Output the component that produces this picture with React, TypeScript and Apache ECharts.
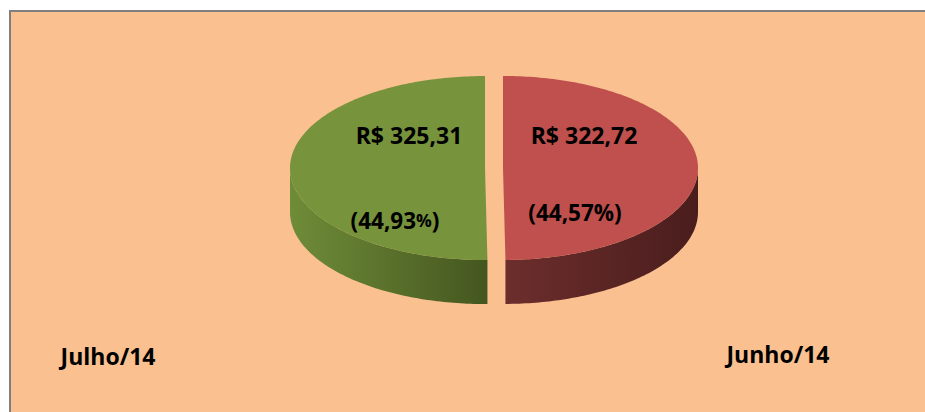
import React, { useEffect, useRef } from "react";
import * as echarts from "echarts";

// ---- data ----
const categories = ["Junho/14", "Julho/14"];
const values = [322.72, 325.31];
const percents = [44.57, 44.93];

// ---- styles ----
const TOP_COLORS = ["#C0504D", "#77933C"];
const SIDE_COLORS = [
  ["#6C2E2C", "#4A1D1D"],
  ["#6F8C38", "#44561F"],
];
const BG = "#FAC090";
const FONT = "'Open Sans', 'Noto Sans', sans-serif";

// ---- geometry ----
const CX = 494;
const CY = 168;
const RX = 195;
const RY = 92;
const DEPTH = 44;
const EXPLODE = 9;

const fmtMoney = (v: number) => "R$ " + v.toFixed(2).replace(".", ",");
const fmtPct = (v: number) => v.toFixed(2).replace(".", ",");

export default function App() {
  const ref = useRef<HTMLDivElement>(null);

  useEffect(() => {
    if (!ref.current) return;
    const chart = echarts.init(ref.current, undefined, { renderer: "svg" });
    const total = values.reduce((a, b) => a + b, 0);
    const rad = (d: number) => (d * Math.PI) / 180;

    const renderItem = (params: any, api: any) => {
      const i = params.dataIndex;
      let start = 0;
      for (let k = 0; k < i; k++) start += (values[k] / total) * 360;
      const span = (api.value(0) / total) * 360;
      const end = start + span;
      const mid = start + span / 2;
      const cx = CX + EXPLODE * Math.sin(rad(mid));
      const cy = CY - EXPLODE * Math.cos(rad(mid)) * (RY / RX);
      const pt = (a: number, dy = 0) => [
        cx + RX * Math.sin(rad(a)),
        cy - RY * Math.cos(rad(a)) + dy,
      ];
      const arc = (a0: number, a1: number, dy = 0) => {
        const pts: number[][] = [];
        const n = Math.max(2, Math.ceil(Math.abs(a1 - a0)));
        for (let s = 0; s <= n; s++) pts.push(pt(a0 + ((a1 - a0) * s) / n, dy));
        return pts;
      };
      const children: any[] = [];
      const lo = Math.max(start, 90);
      const hi = Math.min(end, 270);
      if (lo < hi) {
        const sidePts = arc(lo, hi).concat(arc(hi, lo, DEPTH));
        children.push({
          type: "polygon",
          shape: { points: sidePts },
          style: {
            fill: new echarts.graphic.LinearGradient(0, 0, 1, 0, [
              { offset: 0, color: SIDE_COLORS[i][0] },
              { offset: 1, color: SIDE_COLORS[i][1] },
            ]),
          },
        });
      }
      const topPts = [[cx, cy]].concat(arc(start, end));
      children.push({
        type: "polygon",
        shape: { points: topPts },
        style: { fill: TOP_COLORS[i] },
      });
      return { type: "group", children };
    };

    const txt = (x: number, y: number, style: any) => ({
      type: "text",
      x,
      y,
      z: 100,
      style: {
        fill: "#000",
        align: "center",
        verticalAlign: "middle",
        fontFamily: FONT,
        fontWeight: "bold",
        ...style,
      },
    });

    chart.setOption({
      animation: false,
      backgroundColor: "#FFFFFF",
      graphic: [
        {
          type: "rect",
          z: -10,
          shape: { x: 10, y: 11, width: 940, height: 430 },
          style: { fill: BG, stroke: "#7F7F7F", lineWidth: 2 },
        },
        txt(584, 135, { text: fmtMoney(values[0]), fontSize: 23 }),
        txt(575, 212, { text: "(" + fmtPct(percents[0]) + "%)", fontSize: 22.5 }),
        txt(409, 135, { text: fmtMoney(values[1]), fontSize: 23 }),
        txt(395, 220, {
          text: "{a|(" + fmtPct(percents[1]) + "}{b|%}{a|)}",
          rich: {
            a: { fontSize: 22.5, fontWeight: "bold", fontFamily: FONT, fill: "#000" },
            b: { fontSize: 17.5, fontWeight: "bold", fontFamily: FONT, fill: "#000" },
          },
        }),
        txt(108, 356, { text: categories[1], fontSize: 23 }),
        txt(778, 354, { text: categories[0], fontSize: 23 }),
      ],
      series: [
        {
          type: "custom",
          coordinateSystem: "none",
          z: 5,
          data: values.map((v, i) => ({ name: categories[i], value: v })),
          renderItem,
        },
      ],
    });
    return () => chart.dispose();
  }, []);

  return (
    <div
      ref={ref}
      style={{ position: "fixed", left: 0, top: 0, width: 925, height: 412 }}
    />
  );
}
